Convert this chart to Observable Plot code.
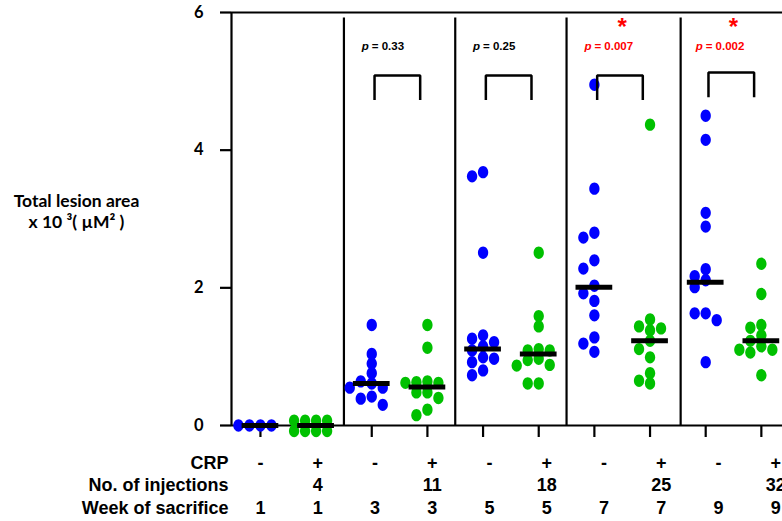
<!DOCTYPE html>
<html>
<head>
<meta charset="utf-8">
<script src="https://cdn.jsdelivr.net/npm/d3@7"></script>
<script src="https://cdn.jsdelivr.net/npm/@observablehq/plot@0.6"></script>
<style>
  html, body { margin: 0; padding: 0; background: #fff; overflow: hidden; }
</style>
</head>
<body>
<div id="chart"></div>
<script>
// ---------------- data ----------------
const categories = ["W1-", "W1+", "W3-", "W3+", "W5-", "W5+", "W7-", "W7+", "W9-", "W9+"];
const crpLabels = ["-", "+", "-", "+", "-", "+", "-", "+", "-", "+"];
const injectionLabels = ["", "4", "", "11", "", "18", "", "25", "", "32"];
const weekLabels = ["1", "1", "3", "3", "5", "5", "7", "7", "9", "9"];
const rowLabels = ["CRP", "No. of injections", "Week of sacrifice"];

// lesion area (x10^3 µm²) for each group, CRP- (blue) / CRP+ (green)
const week1Minus = [0, 0, 0, 0];
const week1Plus = [0.07, 0.07, 0.07, 0.07, -0.08, -0.08, -0.08, -0.08];
const week3Minus = [1.46, 1.04, 0.90, 0.76, 0.64, 0.61, 0.55, 0.55, 0.42, 0.39, 0.30];
const week3Plus = [1.46, 1.13, 0.64, 0.63, 0.62, 0.62, 0.48, 0.48, 0.40, 0.23, 0.15];
const week5Minus = [3.68, 3.62, 2.51, 1.31, 1.26, 1.21, 1.15, 1.09, 0.99, 0.97, 0.92, 0.80, 0.73];
const week5Plus = [2.51, 1.59, 1.44, 1.11, 1.09, 1.09, 0.97, 0.95, 0.88, 0.87, 0.61, 0.61];
const week7Minus = [4.95, 3.44, 2.80, 2.73, 2.40, 2.28, 2.03, 1.92, 1.81, 1.60, 1.28, 1.19, 1.07];
const week7Plus = [4.37, 1.54, 1.44, 1.41, 1.38, 1.23, 1.11, 0.99, 0.76, 0.65, 0.61];
const week9Minus = [4.50, 4.15, 3.09, 2.89, 2.27, 2.17, 2.11, 2.01, 1.63, 1.63, 1.53, 0.92];
const week9Plus = [2.35, 1.91, 1.46, 1.42, 1.31, 1.23, 1.15, 1.10, 1.10, 1.06, 0.73];
const groups = [week1Minus, week1Plus, week3Minus, week3Plus, week5Minus, week5Plus,
                week7Minus, week7Plus, week9Minus, week9Plus];

const medians = [0, 0, 0.61, 0.56, 1.11, 1.04, 2.01, 1.23, 2.08, 1.23];

// comparisons (CRP- vs CRP+) for weeks 3,5,7,9
const comparisonBlue = [2, 4, 6, 8];
const pValues = ["0.33", "0.25", "0.007", "0.002"];
const significant = [false, false, true, true];
const bracketTop = [5.085, 5.085, 5.085, 5.13];
const bracketBottom = [4.73, 4.73, 4.73, 4.77];

const dividers = [1.5, 3.5, 5.5, 7.55];
const yTicks = [0, 2, 4, 6];
const yLabel = "Total lesion area\nx 10 \u00B3( \u00B5M\u00B2 )";

// ---------------- layout ----------------
const W = 782, H = 521;
const mTop = 12, mBottom = 96, mLeft = 231, mRight = 0;
const xDomain = [-0.52, 9.38];
const yDomain = [0, 6];
const pxPerX = (W - mLeft - mRight) / (xDomain[1] - xDomain[0]);
const pxPerY = (H - mTop - mBottom) / (yDomain[1] - yDomain[0]);

// simple beeswarm: horizontal offsets so dots don't overlap too much
const step = 11, minDist = 9;
const dots = [];
groups.forEach((vals, gi) => {
  const placed = [];
  vals.forEach(v => {
    const py = v * pxPerY;
    let ox = 0;
    for (let k = 0; k < 40; k++) {
      const cand = (k % 2 ? -1 : 1) * Math.ceil(k / 2) * step;
      const ok = placed.every(p => Math.hypot(cand - p.ox, py - p.py) >= minDist);
      if (ok) { ox = cand; break; }
    }
    placed.push({ox, py});
    dots.push({x: gi + ox / pxPerX, y: v, crp: crpLabels[gi]});
  });
});

const ellipse = {
  draw(ctx, size) {
    const r = Math.sqrt(size / Math.PI);
    const rx = r * 0.92, ry = r * 1.1, k = 0.5523;
    ctx.moveTo(rx, 0);
    ctx.bezierCurveTo(rx, ry * k, rx * k, ry, 0, ry);
    ctx.bezierCurveTo(-rx * k, ry, -rx, ry * k, -rx, 0);
    ctx.bezierCurveTo(-rx, -ry * k, -rx * k, -ry, 0, -ry);
    ctx.bezierCurveTo(rx * k, -ry, rx, -ry * k, rx, 0);
    ctx.closePath();
  }
};

const brackets = [];
comparisonBlue.forEach((b, j) => {
  const l = b + 0.05, r = b + 1 - 0.13;
  brackets.push({x: l, y: bracketBottom[j], z: j});
  brackets.push({x: l, y: bracketTop[j], z: j});
  brackets.push({x: r, y: bracketTop[j], z: j});
  brackets.push({x: r, y: bracketBottom[j], z: j});
});

const idx = categories.map((_, i) => i);
const labelSpread = 57.3 / 55.7; // the label table is spaced slightly wider than the columns
const labelX = i => i * labelSpread;
const pColor = j => significant[j] ? "#ff0000" : "#000000";
const rowDy = [38, 60, 83];

const marks = [
  // frame lines
  Plot.ruleY([yDomain[1]], {stroke: "black", strokeWidth: 2.2}),
  Plot.ruleY([yDomain[0]], {stroke: "black", strokeWidth: 2.2}),
  Plot.ruleX([xDomain[0]], {y1: yDomain[0], y2: yDomain[1], stroke: "black", strokeWidth: 2.2}),
  Plot.ruleX(dividers, {y1: 0, y2: 5.92, stroke: "black", strokeWidth: 2.2}),
  // y axis
  Plot.axisY({ticks: yTicks, tickFormat: d3.format("d"), tickSize: 11, tickPadding: 17, strokeWidth: 2.2,
    fontSize: 16.5, fontWeight: "bold", fontFamily: "Lato", label: null}),
  // x ticks
  Plot.axisX({ticks: idx, tickSize: 12, strokeWidth: 2.2, tickFormat: () => "", label: null}),
  // dots
  Plot.dot(dots, {x: "x", y: "y", r: 5.6, symbol: ellipse, stroke: null,
    fill: d => d.crp === "-" ? "#0000ff" : "#00c000"}),
  // medians
  Plot.ruleY(idx, {x1: i => i - 0.33, x2: i => i + 0.33, y: i => medians[i],
    stroke: "black", strokeWidth: 5}),
  // brackets
  Plot.line(brackets, {x: "x", y: "y", z: "z", stroke: "black", strokeWidth: 2.5,
    strokeLinejoin: "miter", strokeLinecap: "butt"}),
  // p values
  Plot.text(comparisonBlue, {x: b => b, y: 5.51, text: () => "p", dx: -10, textAnchor: "start",
    fontSize: 11.5, fontWeight: "bold", fontStyle: "italic", fontFamily: "Liberation Sans",
    fill: (b, j) => pColor(j)}),
  Plot.text(comparisonBlue, {x: b => b, y: 5.51, text: (b, j) => "= " + pValues[j], dx: 0,
    textAnchor: "start", fontSize: 11.5, fontWeight: "bold", fontFamily: "Liberation Sans",
    fill: (b, j) => pColor(j)}),
  Plot.text(comparisonBlue.filter((b, j) => significant[j]), {x: b => b + 0.5, y: 5.83,
    text: () => "*", dy: 3, fontSize: 24, fontWeight: "bold", fontFamily: "Liberation Sans", fill: "#ff0000"}),
  // y label
  Plot.text([yLabel], {frameAnchor: "left", dx: -155, dy: -8, textAnchor: "middle",
    lineHeight: 1.2, fontSize: 17.5, fontWeight: "bold", fontFamily: "Lato"}),
  // bottom label table: row titles
  ...rowLabels.map((lab, r) =>
    Plot.text([lab], {frameAnchor: "bottom-left", lineAnchor: "middle", dx: -3, dy: rowDy[r],
      textAnchor: "end", fontSize: 18, fontWeight: "bold", fontFamily: "Liberation Sans"})),
  // bottom label table: cells
  ...[crpLabels, injectionLabels, weekLabels].map((row, r) =>
    Plot.text(idx, {x: i => labelX(i), text: i => row[i], frameAnchor: "bottom", lineAnchor: "middle",
      dy: rowDy[r], fontSize: 18, fontWeight: "bold", fontFamily: "Liberation Sans"}))
];

const chart = Plot.plot({
  width: W, height: H,
  marginTop: mTop, marginBottom: mBottom, marginLeft: mLeft, marginRight: mRight,
  style: {background: "white", color: "black", overflow: "visible"},
  x: {type: "linear", domain: xDomain, axis: null},
  y: {domain: yDomain, axis: null},
  marks
});
document.getElementById("chart").appendChild(chart);
</script>
</body>
</html>
